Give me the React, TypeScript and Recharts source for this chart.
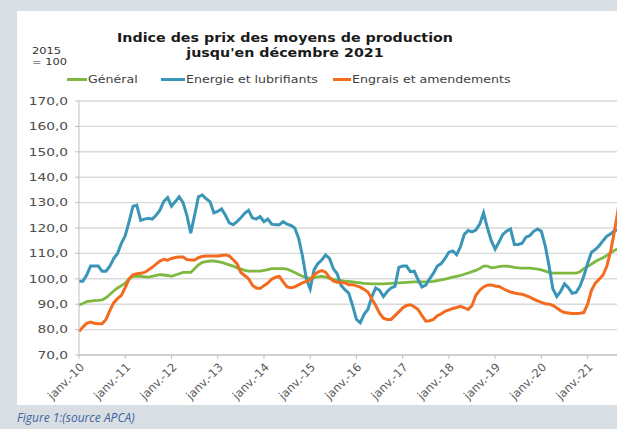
import { CartesianGrid, Line, LineChart, XAxis, YAxis } from "recharts";

const yearLabels = [
  "janv.-10", "janv.-11", "janv.-12", "janv.-13", "janv.-14", "janv.-15",
  "janv.-16", "janv.-17", "janv.-18", "janv.-19", "janv.-20", "janv.-21",
];
const yearTicks = [0, 12, 24, 36, 48, 60, 72, 84, 96, 108, 120, 132];
const yTicks = [70, 80, 90, 100, 110, 120, 130, 140, 150, 160, 170];

// monthly values, janv. 2010 -> déc. 2021 (base 2015 = 100)
const general = [
  89.7, 90.3, 91, 91.2, 91.4, 91.5, 91.7, 92.5, 93.8, 95.2, 96.4, 97.3,
  98.3, 100, 101, 101, 101, 100.8, 100.7, 101, 101.3, 101.6, 101.5, 101.3,
  101, 101.5, 102, 102.5, 102.5, 102.5, 104, 105.5, 106.5, 106.8, 107, 107,
  106.8, 106.5, 106, 105.5, 105, 104.3, 103.8, 103.3, 103, 103, 103, 103,
  103.3, 103.6, 104, 104, 104, 104, 103.8, 103.2, 102.5, 101.7, 101, 100.5,
  100.3, 100.5, 100.8, 101, 100.7, 100.2, 99.8, 99.5, 99.3, 99.1, 99, 98.8,
  98.6, 98.4, 98.2, 98.1, 98, 98, 98, 98, 98.1, 98.2, 98.3, 98.4,
  98.5, 98.6, 98.7, 98.8, 98.8, 98.8, 98.8, 98.9, 99, 99.3, 99.6, 99.9,
  100.3, 100.7, 101, 101.3, 101.8, 102.3, 102.8, 103.3, 104, 105, 105, 104.3,
  104.5, 104.8, 105, 105, 104.8, 104.5, 104.3, 104.2, 104.2, 104.2, 104, 103.8,
  103.5, 103, 102.5, 102.2, 102.2, 102.2, 102.2, 102.2, 102.2, 102.2, 102.8, 104,
  104.8, 105.8, 106.8, 107.6, 108.3, 109.2, 110.3, 111.2, 112, 113, 114, 115,
];
const energie = [
  99, 99, 101.5, 105, 105, 105, 103, 103, 105, 108, 110, 114,
  117, 122.5, 128.5, 129, 123, 123.5, 123.8, 123.5, 125, 127, 130.5, 132,
  128.6, 130.4, 132.3, 130, 125, 118, 125, 132.3, 133, 131.5, 130.4, 126,
  126.5, 127.5, 125, 122, 121.3, 122.5, 124, 125.8, 127, 124, 123.5, 124.5,
  122.5, 123.5, 121.5, 121.3, 121.3, 122.5, 121.5, 121, 120, 116, 109, 100,
  96, 103.5, 106, 107.4, 109.4, 108, 104, 102, 97.5, 95.7, 94.4, 89.5,
  84, 82.7, 86, 88, 93, 96.4, 95.5, 93, 95, 96.4, 97, 104.5,
  105, 105, 102.8, 103, 99.6, 96.8, 97.5, 100, 102.2, 105, 106, 108,
  110.5, 111, 109.5, 112.6, 117.5, 119, 118.5, 119.2, 121.5, 126, 120, 115,
  111.7, 114.5, 117.5, 118.8, 119.6, 113.5, 113.5, 114, 116.4, 117, 118.7, 119.6,
  118.7, 113, 105, 96, 93, 95, 98, 96.5, 94.3, 94.6, 97, 101,
  106, 110.5, 111.5, 113, 115, 116.8, 117.7, 119, 119.2, 121, 126, 130,
];
const engrais = [
  79.3, 81, 82.5, 83, 82.5, 82.3, 82.3, 84, 87.5, 90.5, 92.2, 93.5,
  96.5, 100, 101.6, 102, 102.2, 102.5, 103.5, 104.5, 105.8, 107, 107.7, 107.3,
  108, 108.4, 108.6, 108.6, 107.6, 107.4, 107.4, 108.3, 108.8, 109, 109, 109,
  109, 109.2, 109.4, 109, 107.5, 106, 102.5, 101.3, 100, 97.5, 96.4, 96.2,
  97.3, 98.3, 99.8, 100.6, 100.9, 98.8, 96.8, 96.5, 96.8, 97.6, 98.4, 99,
  99.6, 101.5, 102.6, 103.2, 102.6, 100.5, 99.2, 98.6, 98.5, 98.4, 97.7, 97.7,
  97.2, 96.7, 95.8, 94.8, 92, 89.5, 86.5, 84.5, 84, 84, 85.5, 87,
  88.5, 89.5, 89.8, 89, 87.9, 85.5, 83.3, 83.5, 84, 85.5, 86.2, 87.2,
  87.8, 88.3, 88.7, 89.2, 88.6, 87.9, 89.5, 93.5, 95.5, 96.8, 97.5, 97.6,
  97.2, 97, 96.2, 95.4, 94.8, 94.4, 94.1, 93.9, 93.4, 92.8, 92, 91.3,
  90.7, 90.2, 90, 89.5, 88.5, 87.4, 86.7, 86.5, 86.3, 86.3, 86.4, 86.7,
  90, 95.5, 98.3, 99.8, 101.5, 105, 111, 119, 128, 138, 146, 150,
];

const data = general.map((g, i) => ({
  m: i,
  general: g,
  energie: energie[i],
  engrais: engrais[i],
}));

const legendItems = [
  { label: "Général", color: "#7db83f", lineX: 67, lineW: 20 },
  { label: "Energie et lubrifiants", color: "#3a95b6", lineX: 161, lineW: 24 },
  { label: "Engrais et amendements", color: "#f26b1f", lineX: 333, lineW: 18 },
];

const font = "'DejaVu Sans', Verdana, sans-serif";

function MonthTick({ x, y, payload }: any) {
  const idx = yearTicks.indexOf(payload.value);
  return (
    <g transform={`translate(${x + 3},${y + 4})`}>
      <text
        transform="rotate(-45)"
        textAnchor="end"
        dy="0.35em"
        fontSize={11.5}
        fontFamily={font}
        fill="#595959"
      >
        {yearLabels[idx]}
      </text>
    </g>
  );
}

function ValueTick({ x, y, payload }: any) {
  return (
    <g transform={`translate(${x},${y}) scale(1.25,1)`}>
      <text x={0} y={0} dy="0.35em" textAnchor="end" fontSize={11} fontFamily={font} fill="#4d4d4d">
        {Number(payload.value).toFixed(1).replace(".", ",")}
      </text>
    </g>
  );
}

export default function App() {
  return (
    <div
      style={{
        position: "fixed",
        left: 0,
        top: 0,
        width: 617,
        height: 429,
        overflow: "hidden",
        background: "#d9dee3",
        fontFamily: font,
      }}
    >
      <div style={{ position: "absolute", left: 17, top: 11, width: 620, height: 394, background: "#ffffff" }} />

      <div
        style={{
          position: "absolute",
          left: 85,
          top: 30,
          width: 400,
          textAlign: "center",
          fontWeight: "bold",
          fontSize: 12.5,
          lineHeight: "15px",
          color: "#1a1a1a",
          transform: "scaleX(1.14)",
          transformOrigin: "center",
        }}
      >
        Indice des prix des moyens de production
        <br />
        jusqu'en décembre 2021
      </div>

      <div
        style={{
          position: "absolute",
          left: 32,
          top: 45,
          fontSize: 9.5,
          lineHeight: "11px",
          color: "#333",
          transform: "scaleX(1.2)",
          transformOrigin: "left",
        }}
      >
        2015
        <br />= 100
      </div>

      {legendItems.map((item) => (
        <div key={item.label}>
          <div
            style={{
              position: "absolute",
              left: item.lineX,
              top: 78,
              width: item.lineW,
              height: 3,
              background: item.color,
            }}
          />
          <div
            style={{
              position: "absolute",
              left: item.lineX + item.lineW + 1,
              top: 73,
              fontSize: 10.5,
              lineHeight: "13px",
              color: "#404040",
              whiteSpace: "nowrap",
              transform: "scaleX(1.2)",
              transformOrigin: "left",
            }}
          >
            {item.label}
          </div>
        </div>
      ))}

      <div style={{ position: "absolute", left: 0, top: 0 }}>
        <LineChart width={700} height={429} data={data} margin={{ top: 101, right: 70, bottom: 24, left: 19 }}>
          <CartesianGrid stroke="#d9d9d9" strokeWidth={1.4} vertical={false} />
          <XAxis
            dataKey="m"
            type="number"
            domain={[0, 143]}
            ticks={yearTicks}
            interval={0}
            height={50}
            stroke="#bfbfbf"
            tickSize={4}
            tickMargin={2}
            tick={<MonthTick />}
          />
          <YAxis
            domain={[70, 170]}
            ticks={yTicks}
            interval={0}
            width={60}
            stroke="#bfbfbf"
            tickSize={4}
            tickMargin={7}
            tick={<ValueTick />}
          />
          <Line dataKey="general" stroke="#7db83f" strokeWidth={2.8} dot={false} isAnimationActive={false} />
          <Line dataKey="energie" stroke="#3a95b6" strokeWidth={3} dot={false} isAnimationActive={false} />
          <Line dataKey="engrais" stroke="#f26b1f" strokeWidth={3} dot={false} isAnimationActive={false} />
        </LineChart>
      </div>

      <div
        style={{
          position: "absolute",
          left: 17,
          top: 409,
          fontFamily: "'Open Sans', sans-serif",
          fontStyle: "italic",
          fontSize: 12,
          color: "#3d62a0",
          whiteSpace: "nowrap",
        }}
      >
        Figure 1:(source APCA)
      </div>
    </div>
  );
}
